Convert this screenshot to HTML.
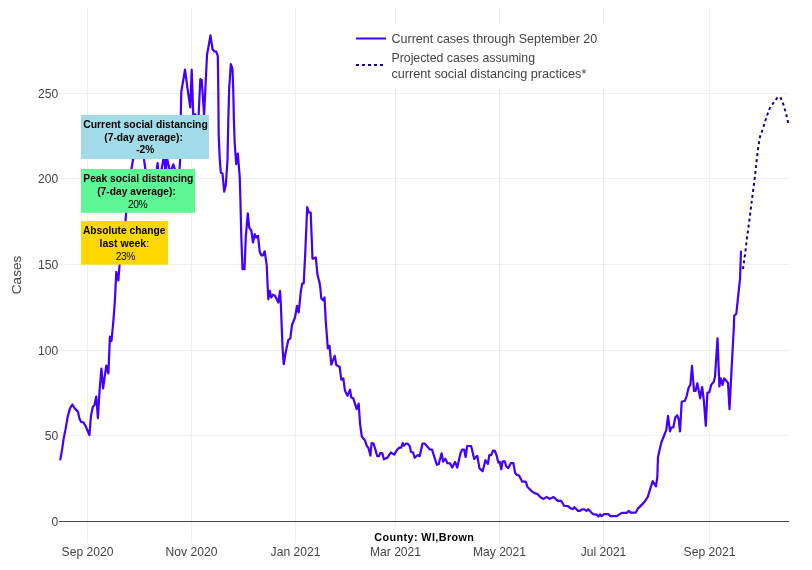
<!DOCTYPE html>
<html><head><meta charset="utf-8"><title>County: WI,Brown</title>
<style>
html,body{margin:0;padding:0;background:#fff;}
body{width:812px;height:570px;overflow:hidden;}
svg{display:block;}
text{font-family:"Liberation Sans",sans-serif;fill:#444;}
.t{font-size:12.1px;}
.b{font-weight:bold;}
.l{font-size:12.5px;}
.a{font-size:10.25px;fill:#000;}
.p{font-size:10.3px;fill:#000;letter-spacing:-0.45px;}
</style></head><body>
<svg width="812" height="570" viewBox="0 0 812 570">
<rect width="812" height="570" fill="#fff"/>

<g shape-rendering="crispEdges" stroke="#eee" stroke-width="1">
<line x1="87.5" y1="8" x2="87.5" y2="543"/>
<line x1="191.5" y1="8" x2="191.5" y2="543"/>
<line x1="295.5" y1="8" x2="295.5" y2="543"/>
<line x1="395.5" y1="8" x2="395.5" y2="543"/>
<line x1="499.5" y1="8" x2="499.5" y2="543"/>
<line x1="603.5" y1="8" x2="603.5" y2="543"/>
<line x1="709.5" y1="8" x2="709.5" y2="543"/>
<line x1="59" y1="93.5" x2="789" y2="93.5"/>
<line x1="59" y1="178.5" x2="789" y2="178.5"/>
<line x1="59" y1="264.5" x2="789" y2="264.5"/>
<line x1="59" y1="350.5" x2="789" y2="350.5"/>
<line x1="59" y1="435.5" x2="789" y2="435.5"/>
</g>
<line x1="59" y1="521.5" x2="789" y2="521.5" stroke="#444" stroke-width="1" shape-rendering="crispEdges"/>
<path d="M60.2,460.2 L62.1,449.4 L63.7,438.4 L65.6,428.9 L67.6,417.1 L70.0,408.4 L72.4,404.5 L74.7,408.4 L77.9,411.6 L79.5,418.7 L81.0,421.8 L83.4,422.3 L85.8,426.5 L89.4,435.2 L91.0,415.5 L92.9,406.8 L94.4,405.2 L96.3,396.6 L97.9,418.2 L99.6,390.0 L101.4,368.6 L103.1,388.4 L106.3,365.5 L108.4,373.4 L109.9,336.6 L111.5,341.0 L113.4,320.5 L114.8,302.0 L116.3,271.8 L118.4,280.5 L119.5,265.5 L120.5,258.0 M125.2,224.0 L126.4,210.0 M131.1,171.0 L133.5,157.0 M143.7,157.0 L145.6,171.0 M156.6,171.0 L157.6,163.0 L158.2,171.0 M161.3,171.0 L163.7,157.0 M164.2,157.0 L165.4,171.0 M166.0,171.0 L166.6,157.0 M166.8,157.0 L169.8,171.0 M170.8,171.0 L173.3,164.3 L175.4,171.0 M179.4,171.0 L180.3,157.0 M180.7,118.0 L181.3,91.7 L185.0,69.7 L187.5,88.3 L190.3,107.5 L191.7,69.7 L193.0,108.3 L193.2,114.2 L195.3,114.4 L196.5,118.0 M198.5,118.0 L200.3,79.2 L201.7,80.0 L204.1,115.2 L207.0,55.0 L210.5,35.3 L212.5,49.2 L214.2,51.3 L216.2,51.7 L217.8,55.8 L218.3,91.7 L218.7,135.0 L219.7,158.3 L220.8,172.5 L222.5,173.7 L224.2,191.7 L225.8,185.0 L227.5,160.0 L228.3,120.0 L229.2,88.3 L230.8,64.2 L232.5,69.2 L233.3,91.7 L233.9,120.0 L234.7,143.3 L236.2,164.2 L237.8,153.7 L239.7,176.7 L240.4,200.0 L241.3,236.7 L242.5,269.2 L244.5,269.2 L245.8,236.7 L247.8,213.3 L249.2,227.5 L251.3,230.3 L253.0,242.5 L254.7,234.2 L256.2,237.5 L258.0,235.8 L259.7,251.7 L261.3,255.3 L263.0,255.3 L264.7,251.3 L266.7,265.0 L267.5,283.0 L268.3,299.2 L269.7,290.8 L271.3,297.5 L273.0,294.7 L275.0,295.8 L278.3,302.5 L280.0,290.8 L280.8,303.3 L282.5,346.7 L283.7,364.2 L285.8,351.7 L288.3,340.0 L290.3,338.3 L292.0,325.0 L295.0,317.5 L297.0,305.8 L298.7,312.5 L300.8,291.7 L302.2,283.5 L303.7,283.3 L305.3,251.7 L307.2,207.0 L308.7,212.5 L310.7,212.5 L312.5,258.7 L315.8,257.5 L317.5,275.0 L319.5,282.5 L320.3,288.0 L321.3,298.3 L323.0,300.3 L324.5,297.5 L325.8,321.7 L327.8,348.3 L329.5,345.8 L331.3,364.6 L334.7,355.8 L336.3,365.0 L339.7,367.0 L341.3,379.7 L343.3,378.3 L345.0,390.8 L347.5,395.8 L350.0,389.7 L351.3,397.5 L353.3,398.3 L356.7,409.2 L358.7,403.7 L360.0,423.3 L361.8,436.5 L364.9,440.2 L366.7,445.7 L368.5,448.2 L370.4,455.6 L371.6,443.0 L373.5,443.5 L375.3,449.4 L377.2,456.2 L379.0,456.2 L380.2,453.1 L382.3,453.1 L383.9,459.3 L387.3,457.8 L390.7,452.5 L394.2,454.6 L396.9,450.0 L399.3,447.6 L401.2,447.6 L402.7,443.0 L404.0,445.7 L406.1,443.5 L408.0,443.9 L409.8,446.3 L411.0,451.9 L413.1,452.5 L414.7,457.8 L417.8,455.0 L419.7,456.2 L422.5,443.5 L424.6,443.5 L429.9,449.4 L432.0,449.7 L436.9,464.8 L438.7,464.2 L441.6,453.3 L443.1,461.7 L445.3,458.6 L447.4,463.2 L449.9,463.3 L452.2,467.6 L455.1,462.0 L457.3,467.6 L460.4,453.4 L462.2,449.5 L464.1,449.5 L465.6,457.1 L467.2,446.0 L471.1,446.0 L474.2,458.9 L477.3,455.9 L479.5,468.4 L482.6,471.3 L485.4,460.2 L487.9,463.9 L489.3,455.2 L491.2,455.2 L493.0,450.7 L494.9,450.9 L496.7,455.9 L498.3,462.6 L499.8,462.0 L501.3,469.2 L502.6,461.4 L504.7,461.4 L506.2,466.3 L508.2,468.2 L510.9,463.0 L513.3,463.0 L515.2,473.1 L517.0,475.0 L518.9,475.3 L522.3,481.7 L525.7,481.7 L527.5,486.9 L531.8,491.3 L535.0,493.4 L537.5,494.0 L540.5,497.3 L543.6,498.9 L546.7,496.8 L549.5,498.9 L553.5,497.1 L557.8,500.8 L561.1,500.8 L564.3,506.0 L567.6,506.0 L570.1,507.9 L572.6,509.2 L574.4,507.2 L578.1,510.9 L580.0,510.9 L581.8,509.4 L584.3,509.4 L586.5,510.9 L588.2,509.2 L592.9,514.1 L596.6,514.6 L598.4,516.6 L600.0,514.3 L601.5,516.2 L604.0,514.1 L608.3,514.1 L610.4,516.2 L616.9,516.2 L621.8,512.9 L626.7,512.9 L628.8,510.9 L630.6,512.7 L635.8,512.6 L637.9,508.6 L644.1,502.4 L647.8,496.9 L650.2,488.9 L652.7,481.1 L656.0,486.4 L657.3,477.2 L658.0,457.0 L661.3,442.5 L666.3,430.0 L668.0,415.8 L670.0,431.3 L671.3,427.5 L673.3,427.5 L675.3,417.5 L677.2,415.3 L678.7,419.2 L680.0,431.3 L681.7,401.7 L684.9,400.8 L686.7,395.8 L688.7,387.5 L690.4,384.6 L692.0,365.8 L694.0,390.8 L695.6,390.8 L697.3,383.3 L700.2,398.3 L702.1,387.0 L703.8,400.0 L705.8,425.8 L707.4,392.5 L709.2,392.5 L711.3,384.6 L713.8,381.7 L715.0,376.7 L717.5,338.3 L719.4,386.5 L720.8,378.3 L722.5,385.0 L724.2,378.3 L728.0,383.0 L729.5,409.2 L731.7,366.7 L733.8,328.0 L734.2,315.8 L736.3,313.7 L740.0,279.2 L741.0,250.8" fill="none" stroke="#4100ff" stroke-width="2.2" stroke-linejoin="round" stroke-linecap="butt"/>
<path d="M743.0,269.2 L745.8,248.3 L747.0,237.5 L749.2,221.7 L751.7,201.7 L754.7,178.3 L756.7,160.0 L758.3,146.7 L760.0,136.7 L762.5,130.0 L765.0,121.7 L767.5,114.2 L769.7,108.3 L772.5,104.2 L775.0,100.8 L777.5,97.5 L779.2,96.7 L780.8,98.0 L783.3,104.2 L785.8,112.5 L787.5,120.0 L788.3,123.7" fill="none" stroke="#1c008c" stroke-width="2" stroke-dasharray="3,3" stroke-linejoin="round"/>
<text class="t" x="58.3" y="97.8" text-anchor="end">250</text>
<text class="t" x="58.3" y="182.8" text-anchor="end">200</text>
<text class="t" x="58.3" y="268.8" text-anchor="end">150</text>
<text class="t" x="58.3" y="354.8" text-anchor="end">100</text>
<text class="t" x="58.3" y="439.8" text-anchor="end">50</text>
<text class="t" x="58.3" y="525.8" text-anchor="end">0</text>
<text class="t" x="87.5" y="556" text-anchor="middle">Sep 2020</text>
<text class="t" x="191.5" y="556" text-anchor="middle">Nov 2020</text>
<text class="t" x="295.5" y="556" text-anchor="middle">Jan 2021</text>
<text class="t" x="395.5" y="556" text-anchor="middle">Mar 2021</text>
<text class="t" x="499.5" y="556" text-anchor="middle">May 2021</text>
<text class="t" x="603.5" y="556" text-anchor="middle">Jul 2021</text>
<text class="t" x="709.5" y="556" text-anchor="middle">Sep 2021</text>
<text transform="translate(21.2,275) rotate(-90)" text-anchor="middle" style="font-size:13.5px">Cases</text>
<rect x="352" y="24" width="252" height="64" fill="#fff"/>
<line x1="356" y1="38.5" x2="386" y2="38.5" stroke="#4100ff" stroke-width="2"/>
<line x1="356" y1="65" x2="386" y2="65" stroke="#1c008c" stroke-width="2" stroke-dasharray="3,3"/>
<text class="l" x="391.5" y="42.7">Current cases through September 20</text>
<text class="l" x="391.5" y="61.8" style="font-size:12.3px">Projected cases assuming</text>
<text class="l" x="391.5" y="77.5" style="font-size:12.66px">current social distancing practices*</text>
<rect x="372" y="527" width="105" height="19" fill="#fff"/>
<text class="a b" x="424.3" y="540.7" text-anchor="middle" style="font-size:10.8px;letter-spacing:0.4px">County: WI,Brown</text>
<rect x="81" y="115" width="128" height="44" fill="#a2dbe8"/>
<text class="a b" x="145.5" y="127.8" text-anchor="middle" style="font-size:10.38px">Current social distancing</text>
<text class="a b" x="143.6" y="140.8" text-anchor="middle">(7-day average):</text>
<text class="a b" x="145.3" y="153.3" text-anchor="middle">-2%</text>
<rect x="81" y="169" width="114" height="43.8" fill="#5ef796"/>
<text class="a b" x="138.3" y="181.8" text-anchor="middle">Peak social distancing</text>
<text class="a b" x="136.5" y="194.7" text-anchor="middle">(7-day average):</text>
<text class="p" x="137.6" y="207.8" text-anchor="middle">20%</text>
<rect x="81" y="221.1" width="87" height="43.5" fill="#ffd700"/>
<text class="a b" x="124.2" y="233.8" text-anchor="middle">Absolute change</text>
<text class="a" x="124.3" y="246.7" text-anchor="middle" style="font-size:10.5px"><tspan class="b">last week</tspan>:</text>
<text class="p" x="125.3" y="259.8" text-anchor="middle">23%</text>
</svg></body></html>
